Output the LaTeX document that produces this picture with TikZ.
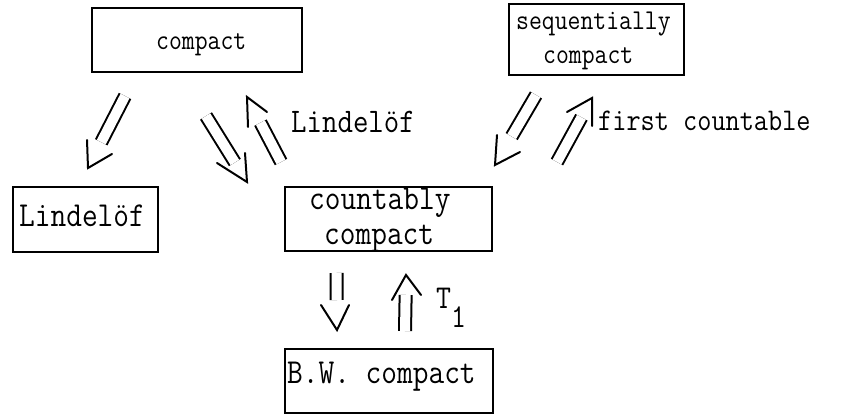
\documentclass[tikz,border=0pt]{standalone}
\usepackage{fontspec}
\usepackage{graphicx}
\usetikzlibrary{calc}
\newcommand\fsz[1]{\fontsize{#1}{#1}\selectfont\ttfamily}
\newcommand\tl[2]{\scalebox{1}[1.15]{\fsz{#1}#2}}
\newcommand\dblimp[5]{%
  \draw[shaft, shorten >=#3] (#1) -- (#2);
  \draw[headline] ($(#2)+(#4)$) -- (#2) -- ($(#2)+(#5)$);
}
\begin{document}
\begin{tikzpicture}[x=1pt, y=-1pt,
  box/.style={draw, line width=1.6pt, inner sep=0pt},
  txt/.style={inner sep=0pt, anchor=base west},
  shaft/.style={double, double distance=10pt, line width=2pt},
  headline/.style={line width=2pt, line cap=round, line join=miter}]
\useasboundingbox (0,0) rectangle (855,420);
% boxes
\node[box, minimum width=210pt, minimum height=64pt] (compact) at (197,40) {};
\node[box, minimum width=175pt, minimum height=71pt] (seq) at (596.5,39.5) {};
\node[box, minimum width=145pt, minimum height=65pt] (lind) at (85.5,219.5) {};
\node[box, minimum width=207pt, minimum height=64pt] (cc) at (388.5,219) {};
\node[box, minimum width=208pt, minimum height=64pt] (bw) at (389,381) {};
% box texts
\node[txt] (compact-t) at (156,50) {\tl{25}{compact}};
\node[txt] (seq-t1) at (516,30) {\tl{25}{sequentially}};
\node[txt] (seq-t2) at (543,64) {\tl{25}{compact}};
\node[txt] (lind-t) at (19,226) {\tl{30.5}{Lindelöf}};
\node[txt] (cc-t1) at (309,209) {\tl{30.5}{countably}};
\node[txt] (cc-t2) at (324,244) {\tl{30.5}{compact}};
\node[txt] (bw-t) at (287,383) {\tl{30.5}{B.W. compact}};
% labels
\node[txt] (lab-lind) at (291,132) {\tl{30}{Lindelöf}};
\node[txt] (lab-fc) at (598,131) {\tl{27.5}{first countable}};
\node[txt] (lab-t1) at (436,308) {\tl{29}{T\raisebox{-17pt}{1}}};
% arrow end coordinates
\coordinate (a1s) at (125,96);   \coordinate (a1t) at (88,168);
\coordinate (a2s) at (206,116);  \coordinate (a2t) at (247,182);
\coordinate (a3s) at (281,162);  \coordinate (a3t) at (247,97);
\coordinate (a4s) at (536,95);   \coordinate (a4t) at (495,165);
\coordinate (a5s) at (557,162);  \coordinate (a5t) at (592,98);
\coordinate (a6s) at (336.5,273); \coordinate (a6t) at (337,330);
\coordinate (a7s) at (405,331);  \coordinate (a7t) at (406,275);
% arrows
\dblimp{a1s}{a1t}{29pt}{-1,-28}{24,-14}
\dblimp{a2s}{a2t}{23pt}{-2,-29}{-30,-19}
\dblimp{a3s}{a3t}{29pt}{1,30}{20,15}
\dblimp{a4s}{a4t}{33pt}{2,-30}{25,-13}
\dblimp{a5s}{a5t}{22pt}{0,28}{-25,14}
\dblimp{a6s}{a6t}{30pt}{-16,-25}{12,-25}
\dblimp{a7s}{a7t}{20pt}{-14,25}{15,20}
\end{tikzpicture}
\end{document}
